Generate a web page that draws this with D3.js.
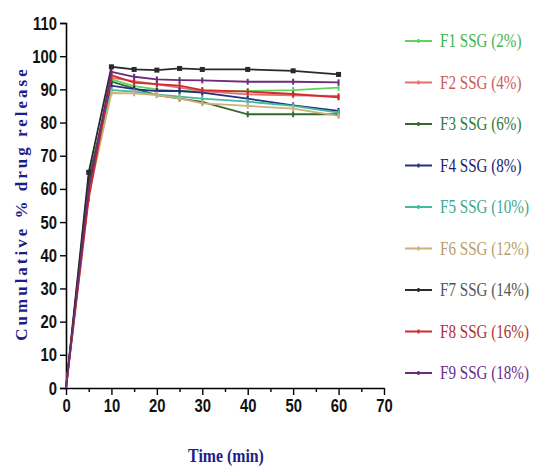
<!DOCTYPE html>
<html>
<head>
<meta charset="utf-8">
<script src="https://cdn.jsdelivr.net/npm/d3@7"></script>
<style>
  body { margin: 0; background: #fff; }
  .tick-lbl { font-family: "Liberation Sans", Arial, sans-serif; font-weight: bold; font-size: 19px; fill: #111; }
</style>
</head>
<body>
<div id="chart"></div>
<script>
// time points (min)
const times = [0, 5, 10, 15, 20, 25, 30, 40, 50, 60];

// cumulative % drug release per formulation
const f1 = [0, 62, 93.0, 91.0, 90.0, 89.5, 89.3, 89.5, 89.8, 90.5];
const f2 = [0, 60, 93.5, 92.5, 91.5, 90.5, 89.5, 88.5, 88.2, 88.0];
const f3 = [0, 63, 92.3, 90.3, 88.3, 87.2, 86.2, 82.5, 82.5, 82.5];
const f4 = [0, 61, 91.1, 90.1, 89.5, 89.5, 89.0, 87.2, 85.2, 83.5];
const f5 = [0, 59, 89.8, 89.3, 88.5, 87.8, 87.2, 86.3, 85.0, 83.0];
const f6 = [0, 58, 88.9, 88.8, 88.3, 87.3, 85.8, 85.0, 84.2, 82.0];
const f7 = [0, 65, 96.8, 96.0, 95.8, 96.3, 96.0, 96.0, 95.6, 94.5];
const f8 = [0, 57, 94.3, 92.0, 91.6, 91.1, 89.8, 89.3, 88.6, 87.6];
const f9 = [0, 60, 95.3, 93.8, 93.0, 92.8, 92.7, 92.3, 92.3, 92.1];

const seriesNames = ["F1 SSG (2%)", "F2 SSG (4%)", "F3 SSG (6%)", "F4 SSG (8%)", "F5 SSG (10%)",
                     "F6 SSG (12%)", "F7 SSG (14%)", "F8 SSG (16%)", "F9 SSG (18%)"];
const seriesValues = [f1, f2, f3, f4, f5, f6, f7, f8, f9];
const lineColors = ["#5fd35f", "#e07070", "#2f6a2f", "#23307f", "#45b8a0", "#cdb07a", "#2a2a2a", "#d02a2a", "#6b2c78"];
const textColors = ["#3fb34f", "#c85a5a", "#2f7a35", "#22226a", "#40a88e", "#b89e68", "#555555", "#b03030", "#6a2c8a"];

const xTicks = [0, 10, 20, 30, 40, 50, 60, 70];
const yTicks = d3.range(0, 111, 10);

const W = 535, H = 469;
const svg = d3.select("#chart").append("svg")
    .attr("width", W)
    .attr("height", H);

// scales
const x = d3.scaleLinear().domain([0, 70]).range([66, 384]);
const y = d3.scaleLinear().domain([0, 110]).range([388, 23]);

// y axis
const yAxis = svg.append("g")
    .attr("transform", `translate(${x(0)},0)`)
    .call(d3.axisLeft(y).tickValues(yTicks).tickSize(6).tickPadding(3));
yAxis.select(".domain").attr("stroke-width", 1.6);
yAxis.selectAll(".tick line").attr("stroke-width", 1.4);
yAxis.selectAll("text")
    .attr("class", "tick-lbl").attr("font-size", null).attr("font-family", null)
    .attr("transform", "scale(0.78,1)")
    .attr("x", -9 / 0.78);

// x axis (minor ticks every 5)
const xMinor = svg.append("g")
    .attr("transform", `translate(0,${y(0)})`)
    .call(d3.axisBottom(x).tickValues(d3.range(5, 70, 10)).tickSize(4).tickFormat(""));
xMinor.select(".domain").remove();
xMinor.selectAll(".tick line").attr("stroke-width", 1.4);

const xAxis = svg.append("g")
    .attr("transform", `translate(0,${y(0)})`)
    .call(d3.axisBottom(x).tickValues(xTicks).tickSize(7).tickPadding(4).tickSizeOuter(0));
xAxis.select(".domain").attr("stroke-width", 1.6);
xAxis.selectAll(".tick line").attr("stroke-width", 1.4);
xAxis.selectAll("text")
    .attr("class", "tick-lbl").attr("font-size", null).attr("font-family", null)
    .attr("transform", "scale(0.78,1)");

// axis titles
svg.append("text")
    .attr("transform", `translate(27,${y(55) - 2}) rotate(-90)`)
    .attr("text-anchor", "middle")
    .attr("font-family", "'Liberation Serif', 'DejaVu Serif', serif")
    .attr("font-weight", "bold")
    .attr("font-size", 17)
    .attr("letter-spacing", 3)
    .attr("fill", "#1d1d8a")
    .text("Cumulative % drug release");

svg.append("text")
    .attr("x", 226)
    .attr("y", 462)
    .attr("text-anchor", "middle")
    .attr("font-family", "'Liberation Serif', 'DejaVu Serif', serif")
    .attr("font-weight", "bold")
    .attr("font-size", 18)
    .attr("fill", "#1d1d8a")
    .attr("transform", "translate(226,0) scale(0.88,1) translate(-226,0)")
    .text("Time (min)");

// lines
const line = d3.line()
    .x((d, i) => x(times[i]))
    .y(d => y(d));

const groups = svg.selectAll(".series")
    .data(seriesValues)
    .enter()
    .append("g")
    .attr("class", "series");

groups.append("path")
    .attr("d", d => line(d))
    .attr("fill", "none")
    .attr("stroke", (d, i) => lineColors[i])
    .attr("stroke-width", 1.8);

// point markers: small vertical bars, squares for F7
groups.each(function(vals, si) {
    const g = d3.select(this);
    vals.forEach((v, i) => {
        if (i === 0) return;
        if (si === 6) {
            g.append("rect")
                .attr("x", x(times[i]) - 2.5)
                .attr("y", y(v) - 2.5)
                .attr("width", 5)
                .attr("height", 5)
                .attr("fill", lineColors[si]);
        } else {
            g.append("line")
                .attr("x1", x(times[i])).attr("x2", x(times[i]))
                .attr("y1", y(v) - 3).attr("y2", y(v) + 3)
                .attr("stroke", lineColors[si])
                .attr("stroke-width", 2);
        }
    });
});

// legend
const legend = svg.append("g");
const legY = d3.scaleLinear().domain([0, 8]).range([41, 373]);
seriesNames.forEach((name, i) => {
    const ly = legY(i);
    legend.append("line")
        .attr("x1", 405).attr("x2", 432)
        .attr("y1", ly).attr("y2", ly)
        .attr("stroke", lineColors[i])
        .attr("stroke-width", 2);
    legend.append("line")
        .attr("x1", 418.5).attr("x2", 418.5)
        .attr("y1", ly - 2).attr("y2", ly + 2)
        .attr("stroke", lineColors[i])
        .attr("stroke-width", 2);
    legend.append("text")
        .attr("x", 0)
        .attr("y", 0)
        .attr("transform", `translate(440,${ly + 6}) scale(0.84,1)`)
        .attr("font-family", "'Liberation Serif', 'DejaVu Serif', serif")
        .attr("font-size", 18)
        .attr("fill", textColors[i])
        .text(name);
});
</script>
</body>
</html>
